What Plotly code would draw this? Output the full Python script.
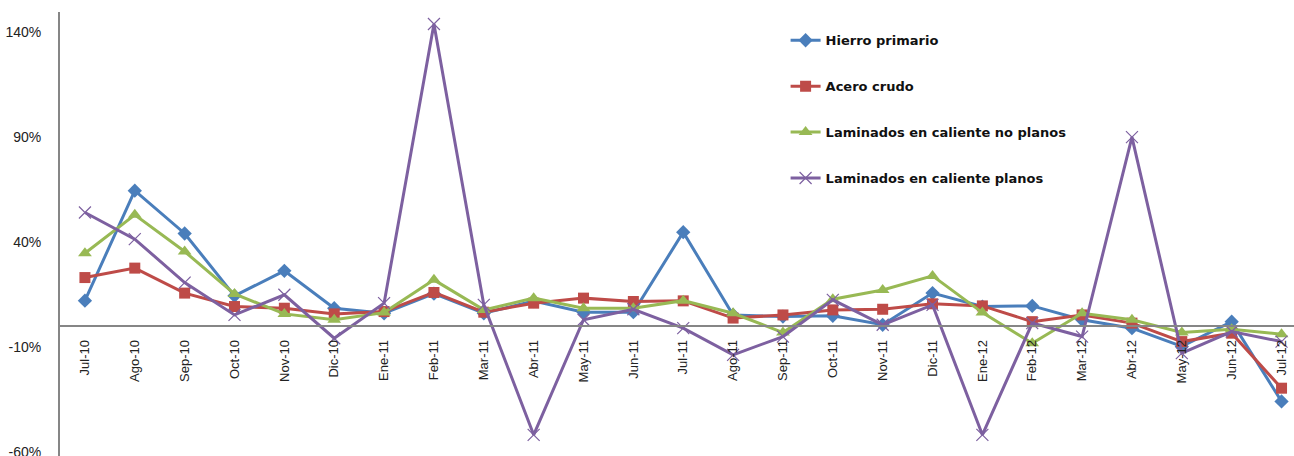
import plotly.graph_objects as go

categorias = ["Jul-10", "Ago-10", "Sep-10", "Oct-10", "Nov-10", "Dic-10", "Ene-11", "Feb-11",
              "Mar-11", "Abr-11", "May-11", "Jun-11", "Jul-11", "Ago-11", "Sep-11", "Oct-11",
              "Nov-11", "Dic-11", "Ene-12", "Feb-12", "Mar-12", "Abr-12", "May-12", "Jun-12", "Jul-12"]

hierro_primario = [12, 64.4, 44, 14.3, 26.2, 8.4, 6, 15.3, 6, 11.8, 6.5, 6.5, 44.6, 5.2, 4.4, 4.8,
                   0.5, 15.6, 9.2, 9.5, 2.9, -1.1, -9.8, 2, -36]
acero_crudo = [23, 27.5, 15.6, 9.2, 8.4, 5.7, 6.8, 15.9, 6.5, 10.8, 13.2, 11.6, 11.9, 3.7, 5.2, 7.6,
               7.9, 10.5, 9.5, 2, 5.2, 1.3, -7.5, -3.5, -29.7]
lam_no_planos = [34.6, 52.9, 35.4, 15.2, 5.7, 2.9, 6.3, 21.9, 7.6, 13.2, 8.4, 8.4, 12, 6, -3.2, 12.7,
                 17.1, 23.8, 6.3, -8.3, 6, 2.9, -3.2, -1.6, -4]
lam_planos = [54, 41.3, 20.6, 5.2, 14.8, -5.9, 10.8, 143.8, 10, -51.9, 2.9, 7.9, -1.1, -13.8, -5.1, 12.4,
              0.5, 10, -51.9, 1.3, -5.1, 89.9, -13, -2.7, -7.5]

y_ticks = [-60, -10, 40, 90, 140]
y_tick_text = [f"{v}%" for v in y_ticks]

series = [
    ("Hierro primario", hierro_primario, "#4A7EBB", dict(symbol="diamond", size=11)),
    ("Acero crudo", acero_crudo, "#BE4B48", dict(symbol="square", size=11)),
    ("Laminados en caliente no planos", lam_no_planos, "#98B954", dict(symbol="triangle-up", size=12)),
    ("Laminados en caliente planos", lam_planos, "#7D60A0",
     dict(symbol="x-thin-open", size=12, line=dict(width=1.2, color="#7D60A0"))),
]

fig = go.Figure()
for i, (nombre, valores, color, marcador) in enumerate(series):
    fig.add_trace(go.Scatter(
        x=list(range(len(categorias))), y=valores, name=nombre, mode="lines+markers",
        line=dict(color=color, width=3), marker=dict(color=color, **marcador),
        legendgroup=f"g{i}",
    ))

y_min, y_max = -62, 149.5
zero_frac = (0 - y_min) / (y_max - y_min)

fig.update_layout(
    width=1294, height=456,
    margin=dict(l=60, r=0, t=12, b=0, autoexpand=False),
    paper_bgcolor="white", plot_bgcolor="white",
    font=dict(family="Liberation Sans, Arial, sans-serif", color="#222222"),
    showlegend=True,
    legend=dict(
        x=0.588, y=0.97, xanchor="left", yanchor="top",
        font=dict(size=13, family="DejaVu Sans, sans-serif", color="#111111", weight="bold"),
        tracegroupgap=26, bgcolor="rgba(0,0,0,0)",
    ),
    xaxis=dict(
        range=[-0.5, 24.25], tickmode="array", tickvals=list(range(len(categorias))),
        ticktext=categorias, tickangle=-90, tickfont=dict(size=13, color="#222222"),
        anchor="free", position=zero_frac, showline=True, linecolor="#868686", linewidth=2,
        showgrid=False, zeroline=False, ticks="", ticklabelstandoff=8, automargin=False,
    ),
    yaxis=dict(
        range=[y_min, y_max], tickmode="array", tickvals=y_ticks, ticktext=y_tick_text,
        tickfont=dict(size=14, color="#222222"), showline=True, linecolor="#868686", linewidth=2,
        showgrid=False, zeroline=False, ticks="", ticklabelstandoff=14,
        ticklabeloverflow="allow", automargin=False,
    ),
)

fig.write_html("out.html")
